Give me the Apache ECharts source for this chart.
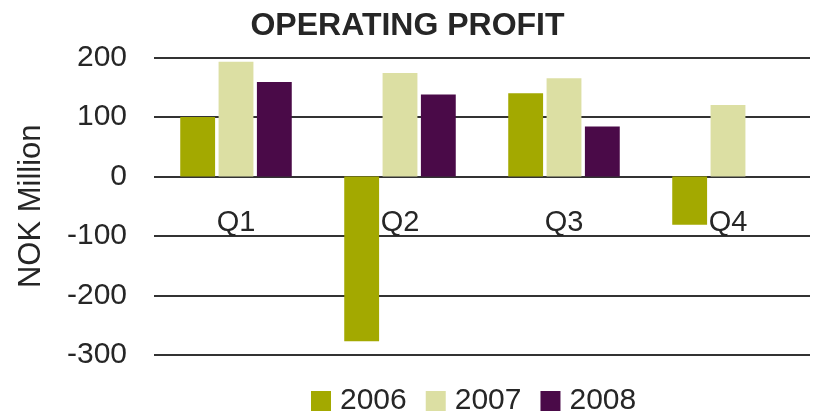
<!DOCTYPE html>
<html>
<head>
    <meta charset="utf-8">
    <title>Operating profit</title>
    <script src="https://cdn.jsdelivr.net/npm/echarts@6/dist/echarts.min.js"></script>
    <style>
        html, body { margin: 0; padding: 0; background: #fff; }
        #chart { width: 815px; height: 415px; }
    </style>
</head>
<body>
    <div id="chart"></div>
    <script>
        // data
        var quarters = ['Q1', 'Q2', 'Q3', 'Q4'];
        var years = ['2006', '2007', '2008'];
        var profit2006 = [100, -277, 140, -81];
        var profit2007 = [193, 174, 165, 120];
        var profit2008 = [159, 138, 84, null];
        var colors = ['#a3a900', '#dcdfa3', '#4a0a48'];

        var chart = echarts.init(document.getElementById('chart'));
        var font = 'Liberation Sans, Arial, sans-serif';
        var textColor = '#262626';

        chart.setOption({
            animation: false,
            color: colors,
            title: {
                text: 'OPERATING PROFIT',
                left: 'center',
                top: 5,
                textStyle: { fontFamily: font, fontSize: 32, fontWeight: 'bold', color: textColor }
            },
            legend: {
                data: years,
                left: 311,
                top: 386,
                padding: 0,
                itemWidth: 20,
                itemHeight: 20,
                itemGap: 19,
                icon: 'rect',
                textStyle: { fontFamily: font, fontSize: 30, color: textColor, padding: [0, 0, 0, 4] }
            },
            grid: {
                left: 154,
                right: 5,
                top: 57.5,
                bottom: 60
            },
            xAxis: {
                type: 'category',
                data: quarters,
                // labels sit just under the zero line
                offset: -178,
                axisLine: { show: false, onZero: false },
                axisTick: { show: false },
                axisLabel: { fontFamily: font, fontSize: 29, color: textColor, margin: 31 }
            },
            yAxis: {
                type: 'value',
                min: -300,
                max: 200,
                interval: 100,
                name: 'NOK Million',
                nameLocation: 'middle',
                nameRotate: 90,
                nameGap: 107,
                nameTextStyle: { fontFamily: font, fontSize: 31, color: textColor },
                axisLine: { show: false },
                axisTick: { show: false },
                axisLabel: { fontFamily: font, fontSize: 30, color: textColor, margin: 27 },
                splitLine: { lineStyle: { color: '#333', width: 2 } }
            },
            series: [
                { name: years[0], type: 'bar', data: profit2006, barGap: '10%', barCategoryGap: '32%' },
                { name: years[1], type: 'bar', data: profit2007 },
                { name: years[2], type: 'bar', data: profit2008 }
            ]
        });
    </script>
</body>
</html>
